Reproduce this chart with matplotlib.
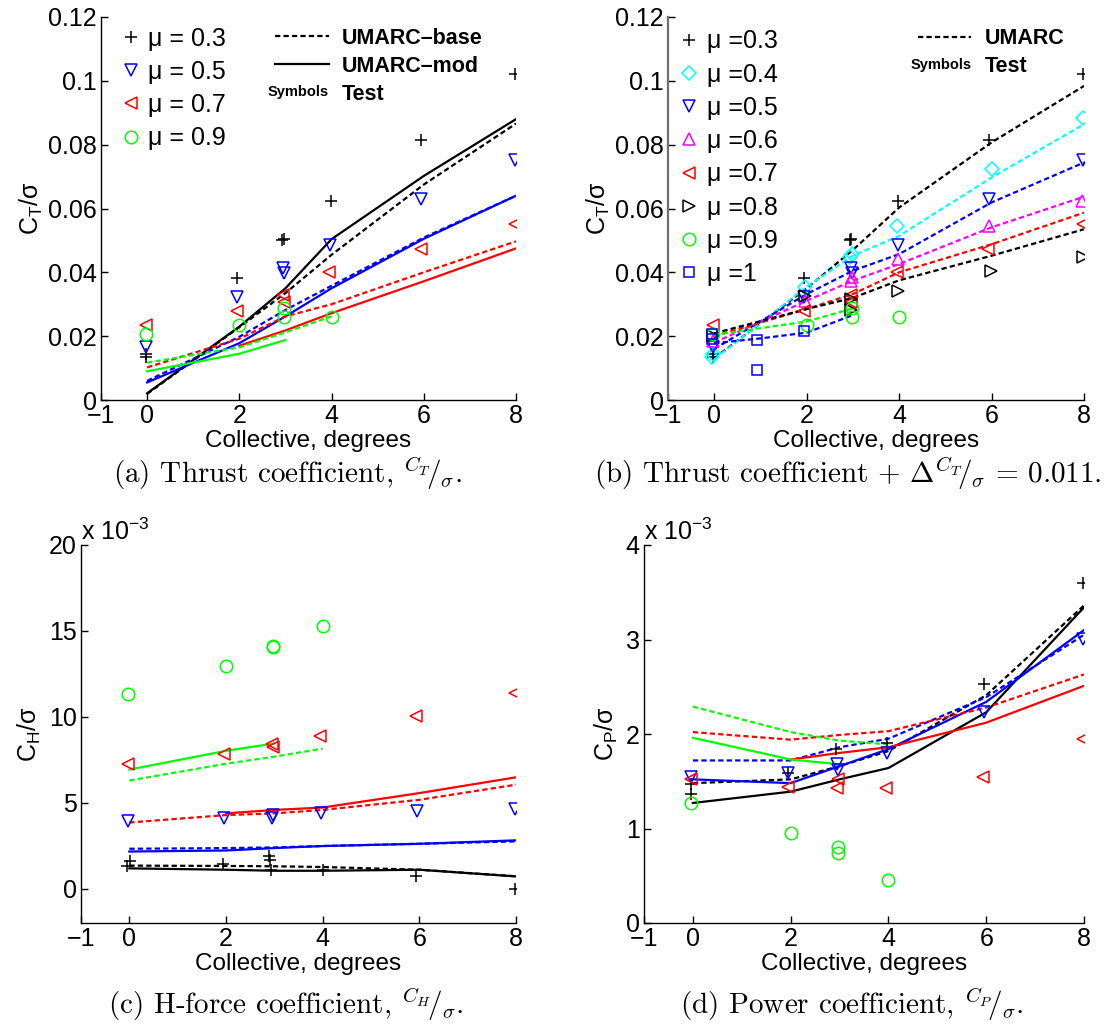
import matplotlib.pyplot as plt
from matplotlib.lines import Line2D
from matplotlib.legend_handler import HandlerBase
from matplotlib.text import Text
from matplotlib.ticker import FuncFormatter

plt.rcParams['font.family'] = ['Liberation Sans', 'DejaVu Sans']
plt.rcParams['mathtext.fontset'] = 'custom'
plt.rcParams['mathtext.rm'] = 'Liberation Sans'
plt.rcParams['mathtext.it'] = 'Liberation Sans:italic'
plt.rcParams['mathtext.bf'] = 'Liberation Sans:bold'

# ---- data -------------------------------------------------------------
# collective nodes of the UMARC runs
coll = [0, 2, 3, 4, 6, 8]
coll_07 = [2, 3, 4, 6, 8]       # mu=0.7 modified model starts at 2 deg
coll_09b = [0, 2, 3, 4]
coll_09m = [0, 2, 3]
coll_10 = [0, 1, 2, 3]

# wind tunnel test, thrust C_T/sigma (panels a and b)
ct_test_x = {
    '0.3': [-0.03, -0.03, 1.95, 2.93, 2.96, 3.98, 5.95, 7.98],
    '0.4': [-0.05, -0.03, 1.97, 2.94, 2.98, 3.96, 6.0, 7.98],
    '0.5': [-0.03, 1.95, 2.95, 2.97, 3.97, 5.95, 7.97],
    '0.6': [-0.03, 1.97, 2.95, 2.98, 3.97, 5.95, 7.95],
    '0.7': [-0.03, 1.95, 2.95, 2.96, 3.95, 5.93, 7.98],
    '0.8': [-0.03, 1.97, 2.95, 2.95, 3.98, 5.98, 7.98],
    '0.9': [-0.03, 2.0, 2.97, 2.97, 4.0],
    '1': [-0.05, -0.05, 0.93, 0.93, 1.95],
}
ct_test_y = {
    '0.3': [0.0145, 0.0135, 0.0382, 0.0500, 0.0505, 0.0622, 0.0814, 0.1020],
    '0.4': [0.0134, 0.0143, 0.0353, 0.0447, 0.0457, 0.0546, 0.0723, 0.0882],
    '0.5': [0.0165, 0.0323, 0.0415, 0.0397, 0.0486, 0.0629, 0.0753],
    '0.6': [0.0186, 0.0311, 0.0374, 0.0384, 0.0441, 0.0546, 0.0624],
    '0.7': [0.0236, 0.0278, 0.0329, 0.0306, 0.0402, 0.0473, 0.0553],
    '0.8': [0.0200, 0.0327, 0.0318, 0.0283, 0.0340, 0.0405, 0.0447],
    '0.9': [0.0207, 0.0236, 0.0288, 0.0261, 0.0261],
    '1': [0.0207, 0.0190, 0.0189, 0.0095, 0.0217],
}

# (a) UMARC-base (dashed) and UMARC-mod (solid)
ct_base_03 = [0.0019, 0.0228, 0.0335, 0.0455, 0.0675, 0.0866]
ct_mod_03 = [0.0021, 0.0230, 0.0350, 0.0504, 0.0702, 0.0880]
ct_base_05 = [0.0060, 0.0198, 0.0282, 0.0358, 0.0509, 0.0640]
ct_mod_05 = [0.0055, 0.0178, 0.0262, 0.0350, 0.0505, 0.0640]
ct_base_07 = [0.0102, 0.0192, 0.0262, 0.0300, 0.0400, 0.0497]
ct_mod_07 = [0.0170, 0.0218, 0.0272, 0.0372, 0.0475]
ct_base_09 = [0.0117, 0.0165, 0.0212, 0.0262]
ct_mod_09 = [0.0090, 0.0145, 0.0188]

# (b) UMARC + delta C_T/sigma = 0.011
ctd_03 = [0.0131, 0.0350, 0.0470, 0.0603, 0.0807, 0.0984]
ctd_04 = [0.0128, 0.0355, 0.0452, 0.0514, 0.0697, 0.0864]
ctd_05 = [0.0160, 0.0332, 0.0405, 0.0457, 0.0619, 0.0744]
ctd_06 = [0.0180, 0.0311, 0.0374, 0.0426, 0.0541, 0.0637]
ctd_07 = [0.0200, 0.0285, 0.0332, 0.0400, 0.0488, 0.0587]
ctd_08 = [0.0209, 0.0285, 0.0320, 0.0375, 0.0452, 0.0535]
ctd_09 = [0.0204, 0.0246, 0.0287]
ctd_10 = [0.0178, 0.0193, 0.0211, 0.0266]

# (c) H-force C_H/sigma, x 1e-3
ch_test_x = {
    '0.3': [-0.05, 0.02, 1.94, 2.88, 2.92, 2.94, 4.0, 5.93, 7.98],
    '0.5': [-0.03, 1.95, 2.95, 2.97, 3.97, 5.95, 7.97],
    '0.7': [-0.03, 1.95, 2.95, 2.97, 3.95, 5.93, 7.98],
    '0.9': [-0.03, 2.0, 2.97, 2.97, 4.0],
}
ch_test_y = {
    '0.3': [1.34, 1.63, 1.43, 1.89, 1.69, 1.10, 1.10, 0.75, -0.04],
    '0.5': [3.93, 4.09, 4.13, 4.30, 4.38, 4.54, 4.62],
    '0.7': [7.27, 7.82, 8.41, 8.25, 8.86, 10.04, 11.41],
    '0.9': [11.30, 12.97, 14.07, 14.10, 15.30],
}
ch_base_03 = [1.34, 1.32, 1.30, 1.26, 1.10, 0.72]
ch_mod_03 = [1.18, 1.10, 1.04, 1.04, 1.10, 0.71]
ch_base_05 = [2.32, 2.36, 2.40, 2.48, 2.61, 2.75]
ch_mod_05 = [2.16, 2.22, 2.36, 2.48, 2.61, 2.81]
ch_base_07 = [3.85, 4.28, 4.38, 4.58, 5.17, 6.05]
ch_mod_07 = [4.38, 4.58, 4.72, 5.56, 6.48]
ch_base_09 = [6.29, 7.27, 7.68, 8.15]
ch_mod_09 = [6.93, 8.02, 8.45]

# (d) power C_P/sigma, x 1e-3
cp_test_x = {
    '0.3': [-0.03, -0.03, 1.95, 2.93, 3.98, 5.95, 7.98],
    '0.5': [-0.03, 1.95, 2.95, 2.97, 3.97, 5.95, 7.97],
    '0.7': [-0.03, 1.95, 2.95, 2.97, 3.95, 5.93, 7.98],
    '0.9': [-0.03, 2.0, 2.97, 2.97, 4.0],
}
cp_test_y = {
    '0.3': [1.36, 1.47, 1.59, 1.84, 1.91, 2.53, 3.60],
    '0.5': [1.55, 1.59, 1.68, 1.62, 1.80, 2.23, 3.01],
    '0.7': [1.52, 1.44, 1.43, 1.52, 1.43, 1.55, 1.95],
    '0.9': [1.27, 0.95, 0.80, 0.74, 0.45],
}
cp_base_03 = [1.48, 1.52, 1.66, 1.82, 2.41, 3.36]
cp_mod_03 = [1.27, 1.39, 1.52, 1.64, 2.23, 3.34]
cp_base_05 = [1.72, 1.72, 1.86, 1.95, 2.39, 3.05]
cp_mod_05 = [1.52, 1.48, 1.66, 1.84, 2.34, 3.10]
cp_base_07 = [2.02, 1.94, 1.99, 2.03, 2.28, 2.63]
cp_mod_07 = [1.73, 1.80, 1.86, 2.12, 2.51]
cp_base_09 = [2.29, 2.02, 1.93, 1.89]
cp_mod_09 = [1.96, 1.73, 1.68]

# ---- styles -----------------------------------------------------------
GREEN, CYAN, MAG = '#00ff00', '#00ffff', '#ff00ff'
mu_style = {
    '0.3': ('k', '+', 8.5),
    '0.4': (CYAN, 'D', 7.5),
    '0.5': ('b', 'v', 9),
    '0.6': (MAG, '^', 9),
    '0.7': ('r', '<', 9),
    '0.8': ('k', '>', 9),
    '0.9': (GREEN, 'o', 9),
    '1': ('b', 's', 7.5),
}
DASH = (0, (2.4, 1.4))
LW = 1.6
FS = 18


def plot_test(ax, xs, ys, mu):
    c, m, ms = mu_style[mu]
    h, = ax.plot(xs, ys, linestyle='none', marker=m, markersize=ms,
                 markerfacecolor='none', markeredgecolor=c, markeredgewidth=1.1)
    return h


def model(ax, x, y, c, dashed):
    ax.plot(x, y, color=c, lw=LW, linestyle=DASH if dashed else '-')


def style_axes(ax, ylim, yticks, fmt=None, grey_spine=False):
    ax.set_xlim(-1, 8)
    ax.set_ylim(*ylim)
    ax.set_xticks([-1, 0, 2, 4, 6, 8])
    ax.set_yticks(yticks)
    if fmt:
        ax.yaxis.set_major_formatter(FuncFormatter(fmt))
    for s in ('top', 'right'):
        ax.spines[s].set_visible(False)
    for s in ('left', 'bottom'):
        ax.spines[s].set_linewidth(1.0)
    if grey_spine:
        ax.spines['left'].set_color('#707070')
        ax.spines['left'].set_linewidth(1.6)
    ax.tick_params(direction='in', length=5, width=1.0, labelsize=FS, pad=3)
    ax.set_xlabel('Collective, degrees', fontsize=17.5, labelpad=1)


class SymbolsHandler(HandlerBase):
    def create_artists(self, legend, orig_handle, xdescent, ydescent,
                       width, height, fontsize, trans):
        t = Text(width - xdescent, height / 2 - ydescent, 'Symbols',
                 fontsize=10.5, fontweight='bold', ha='right', va='center',
                 transform=trans)
        return [t]


class SymbolsKey:
    pass


def model_legend(ax, labels, styles, anchor):
    handles = [Line2D([], [], color='k', lw=LW, linestyle=s) for s in styles]
    handles.append(SymbolsKey())
    leg = ax.legend(handles, labels + ['Test'], loc='upper left',
                    bbox_to_anchor=anchor, frameon=False,
                    prop={'weight': 'bold', 'size': 15.5},
                    handlelength=2.5, handletextpad=0.6, labelspacing=0.32,
                    borderpad=0, borderaxespad=0,
                    handler_map={SymbolsKey: SymbolsHandler()})
    return leg


def mu_legend(ax, handles, labels, anchor):
    leg = ax.legend(handles, labels, loc='upper left', bbox_to_anchor=anchor,
                    frameon=False, fontsize=FS, handlelength=0.7,
                    handletextpad=0.35, labelspacing=0.37,
                    borderpad=0, borderaxespad=0)
    ax.add_artist(leg)


def caption(fig, x, y, s):
    fig.text(x / 1114, 1 - y / 1036, s, ha='center', va='center',
             fontsize=21, family='cmr10', math_fontfamily='cm')


fig = plt.figure(figsize=(11.14, 10.36), dpi=100)


def add_axes(l, r, t, b):
    return fig.add_axes([l / 1114, 1 - b / 1036, (r - l) / 1114, (b - t) / 1036])


ax_a = add_axes(101, 516, 17, 400)
ax_b = add_axes(668, 1084, 17, 400)
ax_c = add_axes(81, 516, 545, 923)
ax_d = add_axes(644, 1084, 545, 923)

ct_fmt = lambda v, p: '%g' % round(v, 3)

# ---- (a) --------------------------------------------------------------
ax = ax_a
model(ax, coll, ct_base_03, 'k', True)
model(ax, coll, ct_mod_03, 'k', False)
model(ax, coll, ct_base_05, 'b', True)
model(ax, coll, ct_mod_05, 'b', False)
model(ax, coll, ct_base_07, 'r', True)
model(ax, coll_07, ct_mod_07, 'r', False)
model(ax, coll_09b, ct_base_09, GREEN, True)
model(ax, coll_09m, ct_mod_09, GREEN, False)
mus_a = ['0.3', '0.5', '0.7', '0.9']
hs = [plot_test(ax, ct_test_x[m], ct_test_y[m], m) for m in mus_a]
style_axes(ax, (0, 0.12), [0, 0.02, 0.04, 0.06, 0.08, 0.1, 0.12], ct_fmt)
ax.set_ylabel('C$_{\\mathrm{T}}$/σ', fontsize=FS, labelpad=2)
mu_legend(ax, hs, ['μ = ' + m for m in mus_a], (0.05, 0.975))
model_legend(ax, ['UMARC\u2013base', 'UMARC\u2013mod'], [DASH, '-'], (0.42, 0.972))

# ---- (b) --------------------------------------------------------------
ax = ax_b
model(ax, coll, ctd_03, 'k', True)
model(ax, coll, ctd_04, CYAN, True)
model(ax, coll, ctd_05, 'b', True)
model(ax, coll, ctd_06, MAG, True)
model(ax, coll, ctd_07, 'r', True)
model(ax, coll, ctd_08, 'k', True)
model(ax, coll_09m, ctd_09, GREEN, True)
model(ax, coll_10, ctd_10, 'b', True)
mus_b = ['0.3', '0.4', '0.5', '0.6', '0.7', '0.8', '0.9', '1']
hs = [plot_test(ax, ct_test_x[m], ct_test_y[m], m) for m in mus_b]
style_axes(ax, (0, 0.12), [0, 0.02, 0.04, 0.06, 0.08, 0.1, 0.12], ct_fmt, grey_spine=True)
ax.set_ylabel('C$_{\\mathrm{T}}$/σ', fontsize=FS, labelpad=2)
mu_legend(ax, hs, ['μ =' + m for m in mus_b], (0.03, 0.968))
model_legend(ax, ['UMARC'], [DASH], (0.6, 0.97))

# ---- (c) --------------------------------------------------------------
ax = ax_c
model(ax, coll, ch_base_03, 'k', True)
model(ax, coll, ch_mod_03, 'k', False)
model(ax, coll, ch_base_05, 'b', True)
model(ax, coll, ch_mod_05, 'b', False)
model(ax, coll, ch_base_07, 'r', True)
model(ax, coll_07, ch_mod_07, 'r', False)
model(ax, coll_09b, ch_base_09, GREEN, True)
model(ax, coll_09m, ch_mod_09, GREEN, False)
for m in mus_a:
    plot_test(ax, ch_test_x[m], ch_test_y[m], m)
style_axes(ax, (-2, 20), [0, 5, 10, 15, 20])
ax.set_ylabel('C$_{\\mathrm{H}}$/σ', fontsize=FS, labelpad=4)
ax.text(0, 1.0, 'x 10$^{-3}$', transform=ax.transAxes, fontsize=FS,
        ha='left', va='bottom')

# ---- (d) --------------------------------------------------------------
ax = ax_d
model(ax, coll, cp_base_03, 'k', True)
model(ax, coll, cp_mod_03, 'k', False)
model(ax, coll, cp_base_05, 'b', True)
model(ax, coll, cp_mod_05, 'b', False)
model(ax, coll, cp_base_07, 'r', True)
model(ax, coll_07, cp_mod_07, 'r', False)
model(ax, coll_09b, cp_base_09, GREEN, True)
model(ax, coll_09m, cp_mod_09, GREEN, False)
for m in mus_a:
    plot_test(ax, cp_test_x[m], cp_test_y[m], m)
style_axes(ax, (0, 4), [0, 1, 2, 3, 4])
ax.set_ylabel('C$_{\\mathrm{P}}$/σ', fontsize=FS, labelpad=4)
ax.text(0, 1.0, 'x 10$^{-3}$', transform=ax.transAxes, fontsize=FS,
        ha='left', va='bottom')

# ---- captions ---------------------------------------------------------
caption(fig, 287, 474, r'(a) Thrust coefficient, ${}^{C_T}\!/_{\sigma}$.')
caption(fig, 848, 474, r'(b) Thrust coefficient + $\Delta{}^{C_T}\!/_{\sigma}$ = 0.011.')
caption(fig, 286, 1005, r'(c) H-force coefficient, ${}^{C_H}\!/_{\sigma}$.')
caption(fig, 852, 1005, r'(d) Power coefficient, ${}^{C_P}\!/_{\sigma}$.')

fig.savefig('out.png', dpi=100)
